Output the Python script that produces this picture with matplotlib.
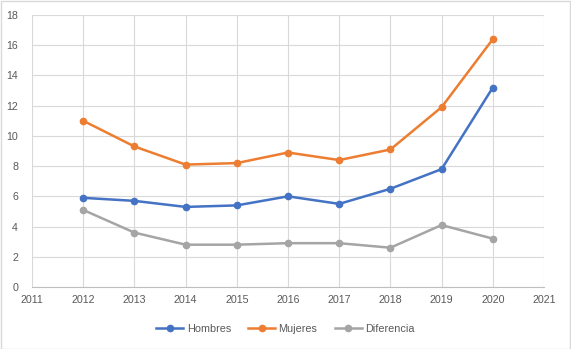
import matplotlib.pyplot as plt
from matplotlib.patches import Rectangle

years = [2012, 2013, 2014, 2015, 2016, 2017, 2018, 2019, 2020]
hombres = [5.9, 5.7, 5.3, 5.4, 6.0, 5.5, 6.5, 7.8, 13.2]
mujeres = [11.0, 9.3, 8.1, 8.2, 8.9, 8.4, 9.1, 11.9, 16.4]
diferencia = [5.1, 3.6, 2.8, 2.8, 2.9, 2.9, 2.6, 4.1, 3.2]

series = [
    ("Hombres", hombres, "#4472C4"),
    ("Mujeres", mujeres, "#ED7D31"),
    ("Diferencia", diferencia, "#A5A5A5"),
]

plt.rcParams["font.family"] = ["Liberation Sans", "DejaVu Sans"]

fig = plt.figure(figsize=(5.71, 3.49), dpi=100)
ax = fig.add_axes([32 / 571, 62 / 349, 512 / 571, 272 / 349])

for name, vals, col in series:
    ax.plot(years, vals, "-o", color=col, lw=1.8, ms=4.5, label=name)

ax.set_xlim(2011, 2021)
ax.set_ylim(0, 18)
ax.set_xticks(range(2011, 2022))
ax.set_yticks(range(0, 19, 2))
ax.grid(True, color="#D9D9D9", lw=0.8)
ax.set_axisbelow(True)
for s in ["top", "right", "left"]:
    ax.spines[s].set_visible(False)
ax.spines["bottom"].set_color("#BFBFBF")
ax.tick_params(length=0, labelsize=7.7, colors="#595959", pad=6)
ax.tick_params(axis="y", pad=10)

ax.legend(loc="center", bbox_to_anchor=(0.5, 20 / 349), bbox_transform=fig.transFigure,
          ncol=3, frameon=False, fontsize=7.8, labelcolor="#595959",
          handlelength=2.5, columnspacing=1.6, handletextpad=0.3)

fig.patches.append(Rectangle((0.5 / 571, 0.5 / 349), 1 - 1.5 / 571, 1 - 1.5 / 349,
                             transform=fig.transFigure, fill=False,
                             edgecolor="#D9D9D9", lw=1))

fig.savefig("out.png", dpi=100)
